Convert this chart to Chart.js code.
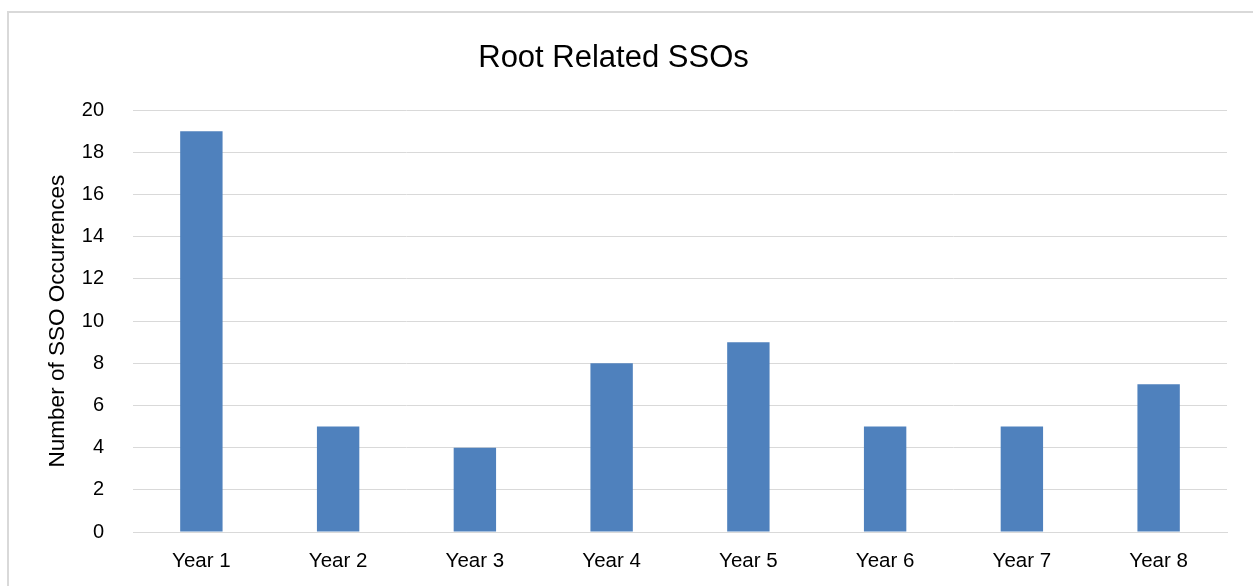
<!DOCTYPE html>
<html>
<head>
<meta charset="utf-8">
<script src="https://cdn.jsdelivr.net/npm/chart.js@4/dist/chart.umd.min.js"></script>
<style>
  html, body { margin: 0; padding: 0; background: #fff; }
  #frame { position: absolute; left: 7px; top: 11px; width: 1260px; height: 600px; border-left: 2px solid #d9d9d9; border-top: 2px solid #d9d9d9; box-sizing: border-box; }
  #wrap { position: absolute; left: 0; top: 0; width: 1253px; height: 586px; }
</style>
</head>
<body>
<div id="frame"></div>
<div id="wrap"><canvas id="c" width="1253" height="586"></canvas></div>
<script>
const categories = ["Year 1", "Year 2", "Year 3", "Year 4", "Year 5", "Year 6", "Year 7", "Year 8"];
const occurrences = [19, 5, 4, 8, 9, 5, 5, 7];
const chartTitle = "Root Related SSOs";
const yAxisTitle = "Number of SSO Occurrences";

const FONT = "'Liberation Sans', Arial, sans-serif";

new Chart(document.getElementById('c'), {
  type: 'bar',
  data: {
    labels: categories,
    datasets: [{
      data: occurrences,
      backgroundColor: '#4F81BD',
      borderWidth: 0,
      categoryPercentage: 1.0,
      barPercentage: 0.31
    }]
  },
  options: {
    responsive: false,
    animation: false,
    devicePixelRatio: 1,
    layout: { padding: { left: 0, right: 26, top: 0, bottom: 0 } },
    plugins: {
      legend: { display: false },
      tooltip: { enabled: false },
      title: {
        display: true,
        text: chartTitle,
        color: '#000',
        font: { family: FONT, size: 31, weight: 'normal', lineHeight: 1.2 },
        padding: { top: 40, bottom: 33 }
      }
    },
    scales: {
      x: {
        grid: { display: false, drawTicks: false },
        border: { display: true, color: '#d9d9d9', width: 1 },
        ticks: { color: '#000', font: { family: FONT, size: 20.5 }, padding: 17, maxRotation: 0 },
        afterFit: (s) => { s.height = 54; }
      },
      y: {
        min: 0, max: 20,
        ticks: { stepSize: 2, color: '#000', font: { family: FONT, size: 20 }, padding: 29 },
        grid: { color: '#d9d9d9', lineWidth: 1, drawTicks: false },
        border: { display: false },
        title: {
          display: true,
          text: yAxisTitle,
          color: '#000',
          font: { family: FONT, size: 22.5, weight: 'normal', lineHeight: 1.2 },
          padding: { top: 44, bottom: 0 }
        },
        afterFit: (s) => { s.width = 133; }
      }
    }
  }
});
</script>
</body>
</html>
